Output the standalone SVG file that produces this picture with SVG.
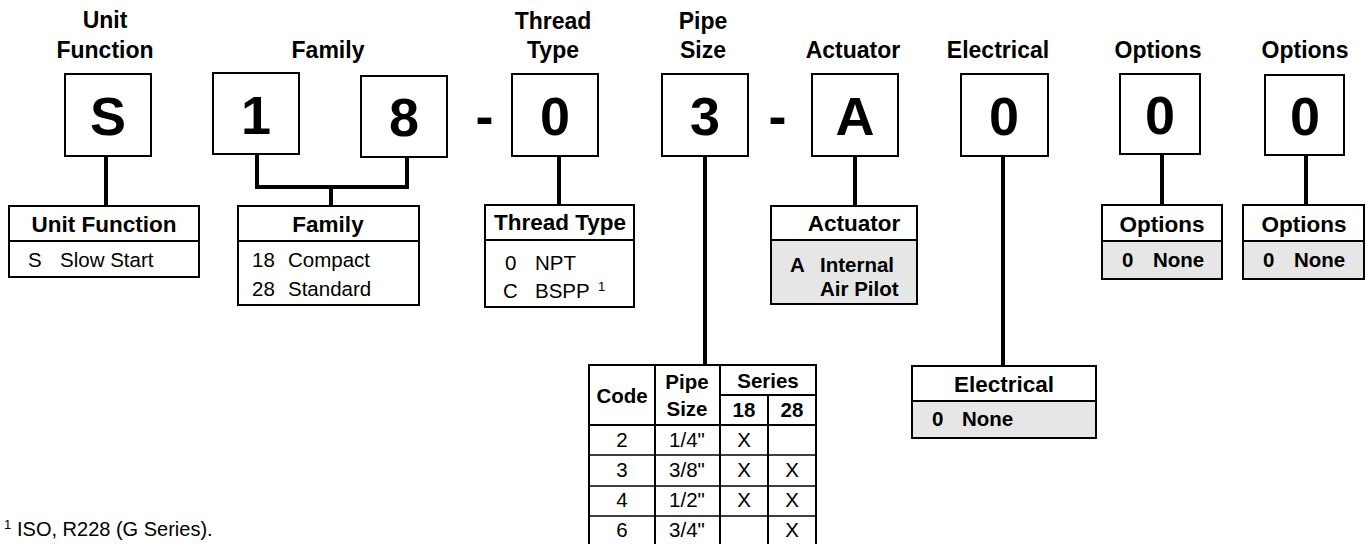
<svg xmlns="http://www.w3.org/2000/svg" width="1369" height="544" viewBox="0 0 1369 544">
<style>
text{font-family:"Liberation Sans",Arial,Helvetica,sans-serif;fill:#000}
.box{fill:#fff;stroke:#000;stroke-width:2}
.gray{fill:#e6e6e6;stroke:#000;stroke-width:2}
.div{stroke:#000;stroke-width:2;fill:none}
.thin{stroke:#000;stroke-width:1.5;fill:none}
.stem{stroke:#000;stroke-width:4;fill:none}
.lbl{font-weight:bold;font-size:23px;text-anchor:middle}
.big{font-weight:bold;font-size:54px;text-anchor:middle}
.hdr{font-weight:bold;font-size:22.5px;text-anchor:middle}
.row{font-size:20.5px}
.rowb{font-size:20.5px;font-weight:bold}
.cell{font-size:20.5px;text-anchor:middle}
.cellb{font-size:20.5px;font-weight:bold;text-anchor:middle}
</style>

<g id="connectors">
<path class="stem" d="M106 156V206"/>
<path class="stem" d="M257 154V187H407V157"/>
<path class="stem" d="M331 187V206"/>
<path class="stem" d="M559 156V205"/>
<path class="stem" d="M705 156V365"/>
<path class="stem" d="M855 156V206"/>
<path class="stem" d="M1003 156V366"/>
<path class="stem" d="M1162 154V205"/>
<path class="stem" d="M1306 155V205"/>
</g>

<g id="top-labels">
<text class="lbl" x="105" y="28">Unit</text>
<text class="lbl" x="105" y="58">Function</text>
<text class="lbl" x="328" y="58">Family</text>
<text class="lbl" x="553" y="29">Thread</text>
<text class="lbl" x="553" y="58">Type</text>
<text class="lbl" x="703" y="29">Pipe</text>
<text class="lbl" x="703" y="58">Size</text>
<text class="lbl" x="853" y="58">Actuator</text>
<text class="lbl" x="998" y="58">Electrical</text>
<text class="lbl" x="1158" y="58">Options</text>
<text class="lbl" x="1305" y="58">Options</text>
</g>

<g id="code-S"><rect class="box" x="65" y="74" width="86" height="82"/><text class="big" x="108" y="135">S</text></g>
<g id="code-1"><rect class="box" x="213" y="73" width="86" height="81"/><text class="big" x="256" y="134">1</text></g>
<g id="code-8"><rect class="box" x="361" y="76" width="86" height="81"/><text class="big" x="404" y="136">8</text></g>
<text id="dash-1" class="big" x="484.5" y="135">-</text>
<g id="code-0a"><rect class="box" x="512" y="74" width="86" height="82"/><text class="big" x="555" y="135">0</text></g>
<g id="code-3"><rect class="box" x="662" y="74" width="86" height="82"/><text class="big" x="705" y="135">3</text></g>
<text id="dash-2" class="big" x="777.5" y="135">-</text>
<g id="code-A"><rect class="box" x="812" y="74" width="86" height="82"/><text class="big" x="855" y="135">A</text></g>
<g id="code-0b"><rect class="box" x="961" y="74" width="87" height="82"/><text class="big" x="1004" y="135">0</text></g>
<g id="code-0c"><rect class="box" x="1120" y="74" width="80" height="80"/><text class="big" x="1160" y="134">0</text></g>
<g id="code-0d"><rect class="box" x="1265" y="75" width="79" height="80"/><text class="big" x="1305" y="135">0</text></g>

<g id="unit-function">
<rect class="box" x="9" y="206" width="190" height="71"/>
<path class="div" d="M9 241H199"/>
<text class="hdr" x="104" y="232">Unit Function</text>
<text class="row" x="28" y="267">S</text>
<text class="row" x="60" y="267">Slow Start</text>
</g>

<g id="family">
<rect class="box" x="238" y="206" width="181" height="99"/>
<path class="div" d="M238 241H419"/>
<text class="hdr" x="328" y="232">Family</text>
<text class="row" x="252" y="267">18</text>
<text class="row" x="288" y="267">Compact</text>
<text class="row" x="252" y="296">28</text>
<text class="row" x="288" y="296">Standard</text>
</g>

<g id="thread-type">
<rect class="box" x="485" y="205" width="149" height="102"/>
<path class="div" d="M485 240H634"/>
<text class="hdr" x="560" y="230">Thread Type</text>
<text class="row" x="505" y="270">0</text>
<text class="row" x="535" y="270">NPT</text>
<text class="row" x="503" y="298">C</text>
<text class="row" x="535" y="298">BSPP</text>
<text x="598" y="291" font-size="13">1</text>
</g>

<g id="actuator">
<rect class="box" x="771" y="206" width="146" height="98"/>
<rect class="gray" x="771" y="240" width="146" height="64"/>
<text class="hdr" x="854" y="231">Actuator</text>
<text class="rowb" x="790" y="272">A</text>
<text class="rowb" x="820" y="272">Internal</text>
<text class="rowb" x="820" y="296">Air Pilot</text>
</g>

<g id="options-1">
<rect class="box" x="1102" y="205" width="120" height="74"/>
<rect class="gray" x="1102" y="241" width="120" height="38"/>
<text class="hdr" x="1162" y="232">Options</text>
<text class="rowb" x="1122" y="267">0</text>
<text class="rowb" x="1153" y="267">None</text>
</g>

<g id="options-2">
<rect class="box" x="1243" y="205" width="121" height="74"/>
<rect class="gray" x="1243" y="241" width="121" height="38"/>
<text class="hdr" x="1304" y="232">Options</text>
<text class="rowb" x="1263" y="267">0</text>
<text class="rowb" x="1294" y="267">None</text>
</g>

<g id="electrical">
<rect class="box" x="912" y="366" width="184" height="72"/>
<rect class="gray" x="912" y="401" width="184" height="37"/>
<text class="hdr" x="1004" y="392">Electrical</text>
<text class="rowb" x="932" y="426">0</text>
<text class="rowb" x="962" y="426">None</text>
</g>

<g id="pipe-size-table">
<rect class="box" x="589" y="365" width="227" height="182"/>
<path class="div" d="M655 365V547M720 365V547M768 395V547M720 395H816M589 425H816"/>
<path class="thin" d="M589 455H816M589 486H816M589 516H816"/>
<text class="cellb" x="622" y="403">Code</text>
<text class="cellb" x="687" y="389">Pipe</text>
<text class="cellb" x="687" y="416">Size</text>
<text class="cellb" x="768" y="388">Series</text>
<text class="cellb" x="744" y="417">18</text>
<text class="cellb" x="792" y="417">28</text>
<text class="cell" x="622" y="447">2</text><text class="cell" x="687" y="447">1/4"</text><text class="cell" x="744" y="447">X</text>
<text class="cell" x="622" y="477">3</text><text class="cell" x="687" y="477">3/8"</text><text class="cell" x="744" y="477">X</text><text class="cell" x="792" y="477">X</text>
<text class="cell" x="622" y="507">4</text><text class="cell" x="687" y="507">1/2"</text><text class="cell" x="744" y="507">X</text><text class="cell" x="792" y="507">X</text>
<text class="cell" x="622" y="537">6</text><text class="cell" x="687" y="537">3/4"</text><text class="cell" x="792" y="537">X</text>
</g>

<g id="footnote">
<text x="4" y="529" font-size="13">1</text>
<text x="17" y="536" font-size="20">ISO, R228 (G Series).</text>
</g>
</svg>
